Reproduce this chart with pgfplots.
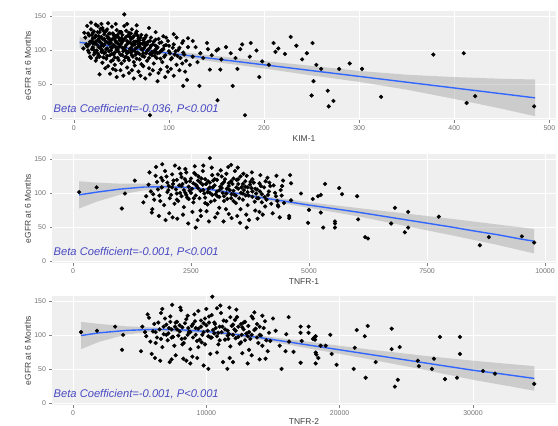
\documentclass[border=0pt]{standalone}
\usepackage{pgfplots}
\pgfplotsset{compat=1.18}
\usepackage{fontspec}
\setmainfont{Liberation Sans}
\definecolor{fitblue}{HTML}{3366FF}
\definecolor{annot}{RGB}{72,72,195}
\definecolor{panelbg}{RGB}{239,239,239}
\pgfplotsset{
 panel/.style={
  scale only axis, width=504bp, height=109bp,
  anchor=south west,
  axis background/.style={fill=panelbg},
  axis line style={draw=none},
  grid=major, grid style={white, line width=0.5bp},
  tick align=outside, major tick length=2.5bp,
  every tick/.style={black!50, line width=0.5bp},
  xtick pos=left, ytick pos=left,
  tick label style={font=\fontsize{7}{8}\selectfont, text=black!55},
  /pgf/number format/assume math mode=true,
  /pgf/number format/set thousands separator={},
  scaled ticks=false,
  ymin=-3, ymax=157, ytick={0,50,100,150},
  xlabel style={font=\fontsize{8.5}{10}\selectfont, text=black!75, at={(axis description cs:0.5,-0.175)}, anchor=center},
  ylabel style={font=\fontsize{8.5}{10}\selectfont, text=black!75, at={(axis description cs:-0.048,0.5)}, anchor=center},
  ylabel={eGFR at 6 Months},
 },
 pts/.style={only marks, mark=*, mark size=1.9bp, black},
 band/.style={fill=black!40, fill opacity=0.4, draw=none},
 fitline/.style={color=fitblue, line width=1.4bp, no marks},
}
\newcommand{\annot}[1]{\node[anchor=west, inner sep=0pt, font=\fontsize{11.2}{13}\selectfont\itshape, text=annot] at (rel axis cs:0.003,0.1) {#1};}
\begin{document}
\begin{tikzpicture}
\useasboundingbox (0,0) rectangle (558bp,-426bp);
% ---------------- Panel 1: KIM-1
\begin{axis}[panel, at={(52bp,-120bp)}, xmin=-23, xmax=507, xtick={0,100,200,300,400,500}, xlabel={KIM-1}]
\addplot[pts] coordinates {
(12,118)(14,105)(15,124)(16,96)(17,112)(18,130)(18,88)(19,101)(20,117)(21,127)(21,93)(22,109)(23,84)(23,121)(24,99)(25,135)(25,114)(26,104)(27,90)(27,126)(28,111)(29,97)(29,119)(30,132)(30,81)(31,106)(32,123)(32,95)(33,113)(34,87)(34,128)(35,102)(36,117)(36,76)(37,109)(38,124)(38,92)(39,99)(40,115)(40,134)(41,85)(42,107)(42,121)(43,96)(44,112)(44,70)(45,129)(46,101)(46,88)(47,118)(48,105)(48,126)(49,93)(50,110)(50,80)(51,122)(52,98)(52,114)(53,135)(54,89)(54,104)(55,119)(56,95)(56,74)(57,110)(58,125)(58,85)(59,101)(60,116)(61,92)(61,130)(62,107)(63,82)(63,120)(64,98)(65,112)(66,87)(66,127)(67,104)(68,68)(68,117)(69,94)(70,109)(71,122)(71,79)(72,100)(73,114)(74,90)(75,106)(76,121)(77,84)(77,98)(78,112)(79,73)(80,103)(81,118)(82,92)(83,108)(84,80)(85,99)(86,115)(87,88)(88,104)(89,66)(90,96)(92,111)(93,82)(94,101)(95,90)(97,107)(98,75)(100,98)(102,86)(104,103)(106,93)(108,78)(110,100)(112,88)(115,96)(118,84)(120,104)
(13,108)(15,99)(16,121)(17,90)(19,113)(20,104)(20,125)(22,96)(22,118)(24,108)(24,88)(26,120)(26,92)(28,102)(28,131)(30,99)(30,116)(31,89)(32,108)(33,127)(34,101)(35,120)(35,91)(37,98)(37,117)(39,110)(39,83)(40,103)(41,124)(42,94)(43,116)(43,78)(44,104)(45,111)(46,122)(47,97)(47,85)(48,114)(49,108)(50,126)(51,92)(51,103)(53,116)(53,84)(55,107)(55,98)(57,121)(57,88)(59,111)(60,103)(60,96)(62,118)(62,90)(64,108)(64,77)(65,124)(67,96)(67,113)(69,105)(69,86)(70,118)(72,109)(72,91)(74,103)(74,116)(76,95)(76,110)(78,100)(79,88)(81,106)(82,97)(84,112)(85,91)(87,102)(88,95)(90,110)(91,87)(93,100)(95,106)(96,92)(99,113)(101,95)(103,88)(105,108)(107,98)(109,91)(111,103)(114,110)(116,93)
(16,108)(19,122)(21,100)(23,112)(25,95)(27,117)(29,106)(31,128)(33,96)(35,111)(37,124)(39,104)(41,116)(43,89)(45,120)(47,108)(49,126)(51,112)(53,100)(55,128)(57,97)(59,119)(61,108)(63,112)(65,93)(67,121)(69,114)(71,101)(73,95)(75,118)(77,108)(80,113)(83,96)(86,106)(89,116)(92,99)(97,118)(100,106)(20,110)(26,113)(32,116)(38,113)(44,120)(50,117)(56,113)(62,99)(68,109)(74,110)(80,94)(86,96)(25,126)(35,130)(45,100)(55,90)(65,102)(40,94)(30,108)(60,124)
(10,102)(11,125)(14,135)(18,140)(23,137)(27,64)(29,138)(33,73)(36,139)(38,65)(41,72)(44,138)(45,60)(49,70)(52,62)(56,138)(58,66)(61,70)(63,58)(66,136)(70,62)(73,76)(75,58)(79,132)(80,64)(83,70)(86,126)(88,54)(91,71)(94,120)(96,60)(99,68)(102,72)(105,62)(108,118)(111,70)(114,80)(117,68)(119,56)(122,78)(125,90)(128,104)(130,82)(133,95)(136,88)(140,110)(145,92)(150,99)(155,86)(160,104)(165,95)(170,88)(185,90)(192,99)(198,83)(205,78)(215,102)(240,86)(245,95)(255,78)(260,72)(290,80)
(53,152)(105,123)(120,117)(115,113)(125,113)(141,101)(152,101)(175,101)(177,108)(186,110)(210,110)(212,97)(143,71)(154,71)(167,47)(172,72)(195,60)(151,26)(180,4)(80,4)(132,47)(115,47)
(228,119)(234,106)(251,110)(222,94)(279,72)(303,72)(252,54)(250,33)(267,40)(273,25)(268,17)(323,31)(378,93)(410,95)(422,32)(413,22)(484,17)
};
\addplot[band] coordinates {
(6,119)(50,106.5)(100,98.5)(150,91)(200,83.5)(250,76.5)(300,69)(350,63.5)(400,60)(450,57.5)(485,56.5)
(485,2.5)(450,13.5)(400,28)(350,41.5)(300,53)(250,62.5)(200,72.5)(150,82)(100,91.5)(50,100.5)(6,103)
} --cycle;
\addplot[fitline] coordinates {(6,111)(50,103.5)(100,95)(150,86.5)(200,78)(250,69.5)(300,61)(350,52.5)(400,44)(450,35.5)(485,29.5)};
\annot{Beta Coefficient=-0.036, P<0.001}
\end{axis}
% ---------------- Panel 2: TNFR-1
\begin{axis}[panel, at={(52bp,-263bp)}, xmin=-445, xmax=10233, xtick={0,2500,5000,7500,10000}, xlabel={TNFR-1}]
\addplot[pts] coordinates {
(1600,112)(1700,98)(1750,125)(1800,105)(1850,88)(1900,118)(1950,132)(2000,101)(2000,115)(2050,92)(2100,127)(2100,108)(2150,84)(2200,119)(2200,99)(2250,136)(2250,111)(2300,95)(2300,123)(2350,104)(2350,79)(2400,116)(2400,130)(2450,91)(2450,109)(2500,121)(2500,100)(2550,86)(2550,114)(2600,127)(2600,96)(2650,107)(2650,118)(2700,74)(2700,103)(2750,132)(2750,112)(2800,93)(2800,120)(2850,101)(2850,83)(2900,115)(2900,108)(2950,126)(2950,97)(3000,89)(3000,111)(3050,119)(3050,102)(3100,78)(3100,94)(3150,124)(3150,107)(3200,116)(3200,88)(3250,99)(3250,128)(3300,110)(3300,69)(3350,92)(3350,117)(3400,103)(3400,121)(3450,85)(3450,96)(3500,113)(3500,106)(3550,76)(3550,124)(3600,99)(3600,90)(3650,109)(3650,117)(3700,82)(3700,101)(3750,112)(3800,94)(3800,120)(3850,87)(3900,105)(3950,114)(3950,72)(4000,98)(4050,108)(4100,90)(4150,102)(4200,84)(4250,111)(4300,95)(4350,80)(4400,104)
(1650,102)(1720,90)(1780,116)(1830,96)(1880,108)(1930,82)(1980,124)(2030,110)(2080,97)(2130,118)(2180,105)(2230,88)(2280,128)(2320,113)(2380,100)(2420,93)(2480,117)(2520,106)(2570,129)(2620,110)(2680,92)(2720,121)(2780,99)(2820,113)(2870,106)(2920,87)(2970,118)(3020,98)(3070,127)(3120,109)(3170,100)(3220,120)(3270,91)(3320,104)(3380,113)(3420,97)(3470,119)(3520,92)(3570,108)(3620,104)(3680,125)(3720,96)(3780,107)(3830,115)(3880,99)(3930,92)(3980,110)(4080,117)(4130,97)(4180,110)(4280,100)(4330,88)(4420,96)
(2020,104)(2120,113)(2270,100)(2370,120)(2470,103)(2560,92)(2660,124)(2760,104)(2860,117)(2960,108)(3060,95)(3160,113)(3260,106)(3360,98)(3460,108)(3560,100)(3660,96)(3760,116)(3860,106)(3960,102)(4060,94)(4160,115)(2200,90)(2400,97)(2600,112)(2800,85)(3000,120)(3200,95)(3400,88)(3600,113)(3800,102)(4000,86)(2300,110)(2700,115)(3100,104)(3500,120)(3900,92)(2900,100)(3300,114)(3700,108)
(1550,95)(1620,130)(1680,76)(1760,138)(1820,66)(1870,122)(1960,60)(2040,70)(2160,140)(2210,62)(2330,68)(2380,135)(2440,55)(2530,72)(2580,139)(2640,60)(2710,66)(2760,140)(2830,73)(2880,58)(2940,137)(3010,64)(3060,70)(3130,133)(3190,58)(3240,76)(3290,138)(3360,63)(3430,132)(3480,66)(3540,56)(3610,128)(3670,68)(3730,60)(3790,130)(3860,74)(3910,62)(3970,126)(4020,68)(4070,80)(4120,122)(4230,70)(4310,125)(4380,64)(4450,118)
(130,101)(500,108)(1100,99)(1035,77)(1310,118)(1490,86)(1670,71)(1890,142)(2110,64)(2600,49)(2900,151)(3350,141)(3490,137)(3680,49)
(4600,126)(4620,114)(4430,110)(4830,99)(5340,113)(5640,107)(5700,98)(6020,95)(5190,95)(5250,97)(5080,91)(4620,89)(4340,82)(4470,85)(5000,75)(5250,71)(4580,66)(4580,63)(4980,56)(5300,49)(5550,58)(5550,55)(5550,49)(6040,61)(6190,35)(6250,33)(6820,78)(7100,72)(6740,55)(7100,49)(7030,42)(7750,65)(8620,23)(8810,35)(9510,36)(9770,27)
};
\addplot[band] coordinates {
(130,117)(500,115)(1000,113.5)(1500,113.5)(2000,112)(3000,106)(4000,96)(5000,86)(6000,78)(7000,70)(8000,62)(9000,53.5)(9770,47)
(9770,11)(9000,23.5)(8000,38)(7000,52)(6000,66)(5000,78)(4000,90)(3000,102)(2000,106)(1500,103.5)(1000,97.5)(500,87)(130,77)
} --cycle;
\addplot[fitline] coordinates {(130,97)(500,101)(1000,105.5)(1500,108.5)(2000,109)(2500,107.5)(3000,104)(3500,99)(4000,93)(4500,87.5)(5000,82)(5500,77)(6000,72)(6500,66.5)(7000,61)(7500,55.5)(8000,50)(8500,44)(9000,38.5)(9500,32)(9770,29)};
\annot{Beta Coefficient=-0.001, P<0.001}
\end{axis}
% ---------------- Panel 3: TNFR-2
\begin{axis}[panel, at={(52bp,-405bp)}, xmin=-1575, xmax=36225, xtick={0,10000,20000,30000}, xlabel={TNFR-2}, xlabel style={at={(axis description cs:0.5,-0.15)}}]
\addplot[pts] coordinates {
(5200,112)(5500,98)(5700,125)(6000,105)(6200,88)(6400,118)(6600,132)(6800,101)(7000,115)(7100,92)(7300,127)(7400,108)(7600,84)(7800,119)(7900,99)(8100,136)(8200,111)(8400,95)(8500,123)(8700,104)(8800,79)(9000,116)(9100,130)(9300,91)(9400,109)(9600,121)(9700,100)(9900,86)(10000,114)(10200,127)(10300,96)(10500,107)(10600,118)(10800,74)(10900,103)(11100,132)(11200,112)(11400,93)(11500,120)(11700,101)(11800,83)(12000,115)(12100,108)(12300,126)(12400,97)(12600,89)(12700,111)(12900,119)(13000,102)(13200,78)(13300,94)(13500,124)(13600,107)(13800,116)(13900,88)(14100,99)(14300,110)(14500,92)(14700,103)
(5400,104)(5800,90)(6100,116)(6300,96)(6500,108)(6700,82)(6900,124)(7200,110)(7500,97)(7700,118)(8000,105)(8300,88)(8600,128)(8900,113)(9200,100)(9500,93)(9800,117)(10100,106)(10400,129)(10700,110)(11000,92)(11300,121)(11600,99)(11900,113)(12200,106)(12500,87)(12800,118)(13100,98)(13400,127)(13700,109)(14000,100)(14400,120)(14800,91)(7150,102)(7650,112)(8150,94)(8650,110)(9150,120)(9650,89)(10150,98)(10650,116)(11150,104)(11650,94)(12150,122)(12650,100)(13150,113)
(6200,104)(6800,112)(7400,96)(8000,114)(8600,100)(9200,110)(9800,104)(10400,96)(11000,112)(11600,106)(12200,95)(12800,108)(13400,100)(14000,112)(7000,100)(7800,108)(8400,117)(9000,96)(9600,112)(10200,118)(10800,98)(11400,108)(12000,100)(12600,116)(13200,104)(7300,119)(8800,104)(10600,102)(12400,112)(13800,96)(9900,124)(11800,126)(6600,94)(8200,86)(9400,82)(10900,86)(12900,92)(14200,84)
(5100,76)(5600,130)(6150,66)(6700,138)(7250,60)(7700,70)(8050,140)(8500,62)(8950,68)(9400,135)(9800,55)(10300,72)(10800,139)(11250,60)(11750,66)(12250,137)(12700,73)(13100,58)(13600,133)(14000,64)(14600,76)(15500,84)(16200,90)(5900,72)(7400,64)(8800,58)(10000,138)(12000,60)(13400,70)(14200,128)
(600,104)(1800,106)(3160,112)(3760,100)(3680,78)(6540,62)(7440,144)(10450,156)(11050,143)(11730,140)(10150,50)(11580,50)(8270,65)(9320,66)(15000,124)(15200,106)(14440,65)
(16170,126)(17070,112)(17670,112)(17070,103)(17670,103)(16000,101)(18100,96)(18150,93)(18000,94)(17150,91)(18200,98)(15940,76)(16540,75)(18200,74)(18250,71)(18400,66)(18200,58)(17070,59)(15640,50)(18570,84)(18950,84)(19400,72)(19770,56)(19300,100)(21280,107)(22100,113)(21880,98)(21130,81)(22700,60)(21050,50)(21950,37)(23900,109)(23900,79)(24500,82)(24360,34)(24140,24)(25860,62)(25940,54)(27070,65)(26920,50)(27520,97)(29020,97)(29020,72)(27900,35)(28800,37)(30750,47)(31650,43)(34590,28)
};
\addplot[band] coordinates {
(600,119)(2000,116)(4000,112.5)(6000,111)(10000,107.5)(14000,99)(18000,89)(22000,79)(26000,70)(30000,62)(34600,54)
(34600,18)(30000,34)(26000,50)(22000,65)(18000,79)(14000,93)(10000,102.5)(6000,105)(4000,100.5)(2000,90)(600,79)
} --cycle;
\addplot[fitline] coordinates {(600,99)(2000,103)(4000,106.5)(6000,108)(8000,107.5)(10000,105)(12000,101)(14000,96)(16000,90)(18000,84)(20000,78)(22000,72)(24000,66)(26000,60)(28000,54)(30000,48)(32000,43)(34600,36)};
\annot{Beta Coefficient=-0.001, P<0.001}
\end{axis}
\end{tikzpicture}
\end{document}
